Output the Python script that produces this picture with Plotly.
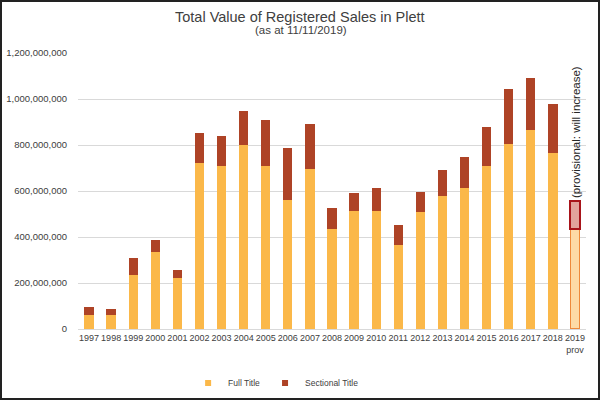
import plotly.graph_objects as go

years = ["1997", "1998", "1999", "2000", "2001", "2002", "2003", "2004", "2005", "2006",
         "2007", "2008", "2009", "2010", "2011", "2012", "2013", "2014", "2015", "2016",
         "2017", "2018", "2019<br>prov"]
full_title = [61e6, 61e6, 233e6, 333e6, 223e6, 723e6, 709e6, 800e6, 709e6, 559e6,
              695e6, 436e6, 513e6, 513e6, 365e6, 507e6, 580e6, 613e6, 707e6, 804e6,
              865e6, 764e6, 433e6]
totals = [97e6, 87e6, 310e6, 387e6, 256e6, 851e6, 839e6, 948e6, 909e6, 787e6,
          891e6, 526e6, 590e6, 613e6, 452e6, 596e6, 693e6, 746e6, 878e6, 1043e6,
          1091e6, 979e6, 556e6]
sectional_title = [t - f for t, f in zip(totals, full_title)]
tick_vals = [0, 200e6, 400e6, 600e6, 800e6, 1000e6, 1200e6]
tick_text = ["0", "200,000,000", "400,000,000", "600,000,000", "800,000,000",
             "1,000,000,000", "1,200,000,000"]

FULL = "#FBB849"
SECT = "#AE4326"
n = len(years)
full_colors = [FULL] * (n - 1) + ["#FDDBA6"]
full_line = [FULL] * (n - 1) + ["#EE8A3A"]
full_lw = [0] * (n - 1) + [1.5]
sect_colors = [SECT] * (n - 1) + ["#E2A39C"]
sect_line = [SECT] * (n - 1) + ["#A8141A"]
sect_lw = [0] * (n - 1) + [2]

FONT = "Liberation Sans, Arial, sans-serif"

fig = go.Figure()
fig.add_trace(go.Bar(x=years, y=full_title, name="Full Title", showlegend=False,
                     marker=dict(color=full_colors, line=dict(color=full_line, width=full_lw))))
fig.add_trace(go.Bar(x=years, y=sectional_title, name="Sectional Title", showlegend=False,
                     marker=dict(color=sect_colors, line=dict(color=sect_line, width=sect_lw))))
# legend-only entries with small square markers
fig.add_trace(go.Scatter(x=[None], y=[None], mode="markers", name="Full Title",
                         marker=dict(symbol="square", size=6, color=FULL)))
fig.add_trace(go.Scatter(x=[None], y=[None], mode="markers", name="Sectional Title",
                         marker=dict(symbol="square", size=6, color=SECT)))

fig.update_layout(
    width=600, height=400,
    barmode="stack", bargap=0.58,
    paper_bgcolor="white", plot_bgcolor="white",
    margin=dict(l=78, r=14, t=53, b=71, autoexpand=False),
    font=dict(family=FONT, color="#595959", size=10),
    showlegend=True,
    legend=dict(orientation="h", x=0.39, xanchor="center", y=(329 - 383) / 276, yanchor="middle",
                font=dict(size=8.5, color="#404040"), traceorder="normal",
                bgcolor="rgba(0,0,0,0)"),
    xaxis=dict(type="category", showgrid=False, showline=True, linecolor="#D9D9D9",
               ticks="", tickfont=dict(size=9, color="#404040"), tickangle=0,
               automargin=False),
    yaxis=dict(range=[0, 1.2e9], tickvals=tick_vals, ticktext=tick_text,
               showgrid=True, gridcolor="#D9D9D9", gridwidth=1, zeroline=False,
               ticks="", ticklabelstandoff=10, tickfont=dict(size=9.5, color="#404040"),
               automargin=False),
    annotations=[
        dict(text="Total Value of Registered Sales in Plett", xref="paper", yref="paper",
             x=(300 - 78) / 508, y=(329 - 17) / 276, xanchor="center", yanchor="middle",
             showarrow=False, font=dict(size=14.5, color="#404040", family=FONT)),
        dict(text="(as at 11/11/2019)", xref="paper", yref="paper",
             x=(301 - 78) / 508, y=(329 - 30) / 276, xanchor="center", yanchor="middle",
             showarrow=False, font=dict(size=11.5, color="#404040", family=FONT)),
        dict(text="(provisional: will increase)", xref="paper", yref="paper",
             x=(576 - 78) / 508, y=(329 - 132) / 276, xanchor="center", yanchor="middle",
             showarrow=False, textangle=-90,
             font=dict(size=11.5, color="#262626", family=FONT)),
    ],
    shapes=[dict(type="rect", xref="paper", yref="paper",
                 x0=(1 - 78) / 508, x1=(599 - 78) / 508,
                 y0=(329 - 399) / 276, y1=(329 - 1) / 276,
                 line=dict(color="#222222", width=2))],
)
fig.write_html("out.html")
